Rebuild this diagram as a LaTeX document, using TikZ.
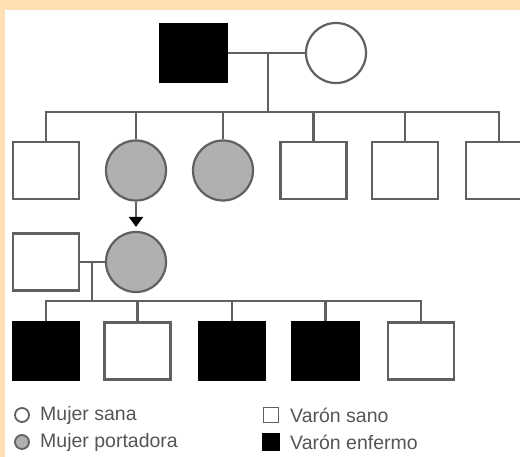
\documentclass[tikz,border=0pt]{standalone}
\usepackage{fontspec}
\setmainfont{Liberation Sans}
\usetikzlibrary{arrows.meta}
\definecolor{marco}{RGB}{254,224,180}
\definecolor{linea}{RGB}{96,96,96}
\definecolor{portadora}{RGB}{176,176,176}
\definecolor{texto}{RGB}{85,85,85}
\begin{document}
\begin{tikzpicture}[x=1pt, y=-1pt, >={Triangle[length=10pt,width=14pt,black]},
  varon/.style={draw=linea, line width=2.2pt, fill=white, minimum width=66pt, minimum height=57pt, inner sep=0pt},
  enfermo/.style={varon, fill=black, draw=black},
  mujer/.style={draw=linea, line width=2.2pt, fill=white, circle, minimum size=60pt, inner sep=0pt},
  portadora/.style={mujer, fill=portadora},
  rama/.style={draw=linea, line width=2.2pt},
  leyenda/.style={anchor=west, inner sep=0pt, text=texto, font=\fontsize{19.5}{21}\selectfont}]
\useasboundingbox (0,0) rectangle (520,457);
\fill[marco] (0,0) rectangle (520,457);
\fill[white] (5,10) rectangle (520,457);
\begin{scope}
\clip (5,10) rectangle (520,457);
\node[enfermo] (padre) at (193.5,53) {};
\node[mujer] (madre) at (336,53) {};
\draw[rama] (padre) -- (madre);
\coordinate (u1) at (268,53);
\coordinate (h1) at (268,112);
\draw[rama] (u1) -- (h1);
\node[varon] (a1) at (46,170.5) {};
\node[portadora] (a2) at (136,170.5) {};
\node[portadora] (a3) at (223,170.5) {};
\node[varon] (a4) at (313.5,170.5) {};
\node[varon] (a5) at (405,170.5) {};
\node[varon] (a6) at (499,170.5) {};
\draw[rama] (a1.north) |- (h1) -| (a6.north);
\foreach \n in {a2,a3,a4,a5}
  \draw[rama] (\n.north) -- (\n.north |- h1);
\node[varon] (esposo) at (46,262) {};
\node[portadora] (hija) at (136,262) {};
\draw[rama] (esposo) -- (hija);
\draw[rama, ->, shorten >=4pt] (a2) -- (hija);
\coordinate (u2) at (92,262);
\coordinate (h2) at (92,301);
\draw[rama] (u2) -- (h2);
\node[enfermo] (b1) at (46,351) {};
\node[varon] (b2) at (137.5,351) {};
\node[enfermo] (b3) at (232,351) {};
\node[enfermo] (b4) at (325.5,351) {};
\node[varon] (b5) at (421,351) {};
\draw[rama] (b1.north) |- (h2) -| (b5.north);
\foreach \n in {b2,b3,b4}
  \draw[rama] (\n.north) -- (\n.north |- h2);
\end{scope}
\node[mujer, minimum size=14pt, line width=1.8pt] (l1) at (22,415) {};
\node[portadora, minimum size=14pt, line width=1.8pt] (l2) at (22,442) {};
\node[varon, minimum width=15pt, minimum height=15pt, line width=1.8pt] (l3) at (271,415) {};
\node[enfermo, minimum width=15pt, minimum height=15pt] (l4) at (271,442) {};
\node[leyenda] (t1) at (40,415) {Mujer sana};
\node[leyenda] (t2) at (40,442) {Mujer portadora};
\node[leyenda] (t3) at (290,415) {Varón sano};
\node[leyenda] (t4) at (290,442) {Varón enfermo};
\end{tikzpicture}
\end{document}
